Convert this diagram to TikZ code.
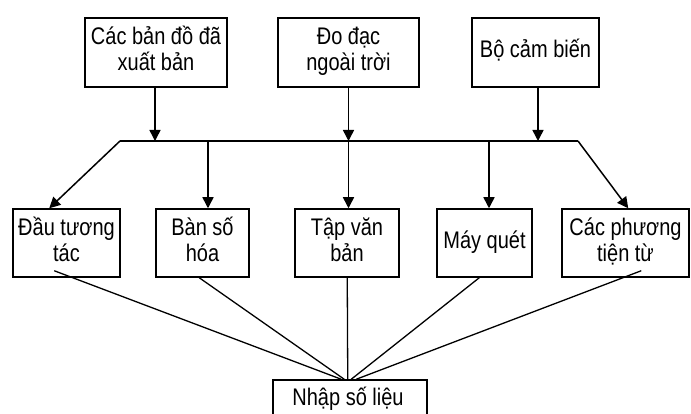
\documentclass[tikz,border=0pt]{standalone}
\usepackage{fontspec}
\usepackage{graphicx}
\setmainfont{Liberation Sans}
\usetikzlibrary{arrows.meta,calc}
\newcommand\boxtxt[1]{\scalebox{1}[1.2]{\begin{tabular}{@{}c@{}}#1\end{tabular}}}
\begin{document}
\begin{tikzpicture}[x=1pt,y=-1pt,
  every node/.style={font=\fontsize{20}{21.5}\selectfont},
  bx/.style={draw, line width=1.5pt, inner sep=0pt, minimum height=68pt},
  ln/.style={line width=1.5pt},
  arr/.style={line width=1.5pt, -{Triangle[length=11pt,width=11pt]}},
  thin/.style={line width=1.3pt}]
\clip (0,0) rectangle (691,414);
\fill[white] (0,0) rectangle (691,414);
% top row
\node[bx, minimum width=142pt, minimum height=69pt] (t1) at (156,52.5) {\raisebox{-3pt}{\boxtxt{Các bản đồ đã\\xuất bản}}};
\node[bx, minimum width=141pt, minimum height=69pt] (t2) at (348.5,52.5) {\boxtxt{Đo đạc\\ngoài trời}};
\node[bx, minimum width=127pt, minimum height=69pt] (t3) at (535.5,52.5) {\boxtxt{Bộ cảm biến}};
% middle row
\node[bx, minimum width=107pt] (mA) at (66.5,243) {\boxtxt{Đầu tương\\tác}};
\node[bx, minimum width=93pt] (mB) at (202.5,243) {\boxtxt{Bàn số\\hóa}};
\node[bx, minimum width=104pt] (mC) at (347,243) {\boxtxt{Tập văn\\bản}};
\node[bx, minimum width=95pt] (mD) at (484.5,243) {\boxtxt{Máy quét}};
\node[bx, minimum width=127pt] (mE) at (625.5,243) {\boxtxt{Các phương\\tiện từ}};
% bottom
\node[bx, minimum width=154pt, minimum height=44pt] (bot) at (350,402) {};
\node at (348,400) (bottxt) {\boxtxt{Nhập số liệu}};
% bus
\coordinate (L) at (120,141);
\coordinate (R) at (578,141);
\coordinate (j1) at (155,141);
\coordinate (j2) at (348.5,141);
\coordinate (j3) at (538,141);
\coordinate (d2) at (208,141);
\coordinate (d3) at (348.5,141);
\coordinate (d4) at (489,141);
\draw[ln] (L) -- (R);
\draw[arr] (t1.south -| j1) -- (j1);
\draw[arr] (t2.south -| j2) -- (j2);
\draw[arr] (t3.south -| j3) -- (j3);
\draw[arr] (L) -- ($(mA.north west)+(37,0)$);
\draw[arr] (d2) -- (d2 |- mB.north);
\draw[arr] (d3) -- (d3 |- mC.north);
\draw[arr] (d4) -- (d4 |- mD.north);
\draw[arr] (R) -- ($(mE.north west)+(67,0)$);
% lines to bottom
\draw[thin] ($(mA.south west)+(42,-7)$) -- ($(bot.north west)+(69,0)$);
\draw[thin] ($(mB.south west)+(44,0)$) -- ($(bot.north west)+(72,0)$);
\draw[thin] ($(mC.south west)+(53,0)$) -- ($(bot.north west)+(75.5,0)$);
\draw[thin] ($(mD.south west)+(43,0)$) -- ($(bot.north west)+(79,0)$);
\draw[thin] ($(mE.south west)+(80,-7)$) -- ($(bot.north west)+(84,0)$);
\end{tikzpicture}
\end{document}
